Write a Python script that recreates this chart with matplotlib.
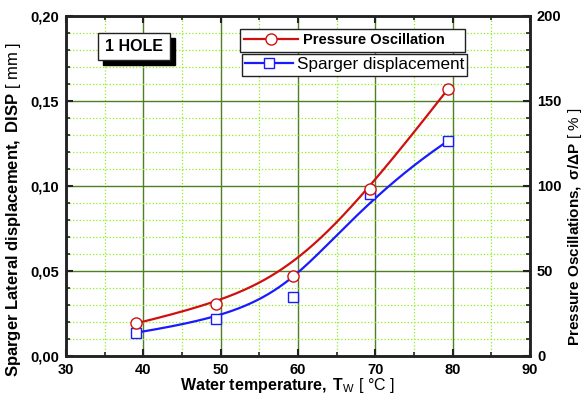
import numpy as np
import matplotlib
matplotlib.use("Agg")
import matplotlib.pyplot as plt
from matplotlib.lines import Line2D
from matplotlib.patches import Rectangle
from matplotlib.ticker import MultipleLocator, FuncFormatter

plt.rcParams['font.family'] = ['Liberation Sans', 'DejaVu Sans']
plt.rcParams['mathtext.fontset'] = 'custom'
plt.rcParams['mathtext.rm'] = 'Liberation Sans'
plt.rcParams['mathtext.bf'] = 'Liberation Sans:bold'
plt.rcParams['mathtext.it'] = 'Liberation Sans:italic'

# Data
temp = [39.1, 49.4, 59.3, 69.3, 79.4]                 # water temperature [°C]
pressure_osc = [19.2, 30.6, 46.9, 98.2, 157.0]        # sigma/dP [%]
sparger_disp = [0.0137, 0.0216, 0.0345, 0.0955, 0.1265]  # DISP [mm]


def bspline(xs, ys, n=300, k=3):
    # clamped B-spline using the points as control points (Origin style)
    P = np.column_stack([xs, ys])
    m = len(P)
    knots = np.concatenate([np.zeros(k), np.linspace(0, 1, m - k + 1), np.ones(k)])
    t = np.linspace(0, 1, n)
    N = np.zeros((n, len(knots) - 1))
    for i in range(len(knots) - 1):
        N[:, i] = (knots[i] <= t) & (t < knots[i + 1])
    N[t == 1, m - 1] = 1
    for d in range(1, k + 1):
        Nn = np.zeros((n, len(knots) - 1 - d))
        for i in range(len(knots) - 1 - d):
            a = knots[i + d] - knots[i]
            b = knots[i + d + 1] - knots[i + 1]
            if a > 0:
                Nn[:, i] += (t - knots[i]) / a * N[:, i]
            if b > 0:
                Nn[:, i] += (knots[i + d + 1] - t) / b * N[:, i + 1]
        N = Nn
    c = N @ P
    return c[:, 0], c[:, 1]


red = '#d01010'
blue = '#1a1aff'
dark = '#222222'

fig = plt.figure(figsize=(5.84, 4.04), dpi=100)
ax = fig.add_axes([0.113, 0.119, 0.7945, 0.8415])
ax2 = ax.twinx()

# grid
ax.set_axisbelow(True)
ax.grid(which='major', color='#4f7f23', lw=1.0, ls='-')
ax.grid(which='minor', color='#8cf01e', lw=0.9, ls=':')

# sparger displacement (left axis)
cx, cy = bspline(temp, sparger_disp)
ax.plot(cx, cy, color=blue, lw=1.6, zorder=3)
ax.plot(temp, sparger_disp, ls='none', marker='s', ms=7, mfc='white', mec=blue, mew=1.0, zorder=4)

# pressure oscillation (right axis)
px, py = bspline(temp, pressure_osc)
ax2.plot(px, py, color=red, lw=1.6, zorder=3)
ax2.plot(temp, pressure_osc, ls='none', marker='o', ms=8, mfc='white', mec=red, mew=1.0, zorder=4)

ax.set_xlim(30, 90)
ax.set_ylim(0, 0.20)
ax2.set_ylim(0, 200)

ax.xaxis.set_major_locator(MultipleLocator(10))
ax.xaxis.set_minor_locator(MultipleLocator(5))
ax.yaxis.set_major_locator(MultipleLocator(0.05))
ax.yaxis.set_minor_locator(MultipleLocator(0.01))
ax2.yaxis.set_major_locator(MultipleLocator(50))
ax2.yaxis.set_minor_locator(MultipleLocator(10))

ax.yaxis.set_major_formatter(FuncFormatter(lambda v, p: f"{v:.2f}".replace('.', ',')))

ax.tick_params(which='both', direction='in', top=True, right=False, color=dark)
ax.tick_params(which='major', length=5, width=1.5, labelsize=10.5, pad=5)
ax.tick_params(which='minor', length=3, width=1.2)
ax2.tick_params(which='both', direction='in', color=dark)
ax2.tick_params(which='major', length=5, width=1.5, labelsize=10.5, pad=5)
ax2.tick_params(which='minor', length=3, width=1.2)

for lab in ax.get_xticklabels() + ax.get_yticklabels() + ax2.get_yticklabels():
    lab.set_fontweight('bold')

for a in (ax, ax2):
    for s in a.spines.values():
        s.set_linewidth(1.8)
        s.set_color(dark)

ax.set_xlabel(r"$\mathbf{Water\ temperature,\ T}_\mathregular{W}$ [ °C ]", fontsize=11.5)
ax.xaxis.set_label_coords(0.478, -0.06)
ax.set_ylabel(r"$\mathbf{Sparger\ Lateral\ displacement,\ DISP}$ [ mm ]", fontsize=12)
ax.yaxis.set_label_coords(-0.092, 0.43)
ax2.set_ylabel(r"$\mathbf{Pressure\ Oscillations,\ σ/ΔP}$ [ % ]", fontsize=11)
ax2.yaxis.set_label_coords(1.078, 0.38)

# legends as two separate boxes
h_red = Line2D([], [], color=red, lw=1.6, marker='o', ms=8, mfc='white', mec=red)
h_blue = Line2D([], [], color=blue, lw=1.6, marker='s', ms=7, mfc='white', mec=blue)
leg1 = ax2.legend([h_red], ['Pressure Oscillation    '], loc='upper left', bbox_to_anchor=(0.375, 0.962),
                  frameon=True, fancybox=False, edgecolor=dark, framealpha=1,
                  prop={'weight': 'bold', 'size': 10.5}, borderpad=0.3, handlelength=3.7,
                  handletextpad=0.3, borderaxespad=0)
leg1.get_frame().set_linewidth(1.0)
ax2.add_artist(leg1)
leg2 = ax2.legend([h_blue], ['Sparger displacement'], loc='upper left', bbox_to_anchor=(0.379, 0.888),
                  frameon=True, fancybox=False, edgecolor=dark, framealpha=1,
                  prop={'size': 12.3}, borderpad=0.2, handlelength=2.8,
                  handletextpad=0.2, borderaxespad=0)
leg2.get_frame().set_linewidth(1.0)

# "1 HOLE" box with drop shadow
bx, by, bw, bh = 0.069, 0.871, 0.155, 0.079
ax2.add_patch(Rectangle((bx + 0.011, by - 0.016), bw, bh, transform=ax.transAxes,
                        fc='black', ec='black', zorder=5))
ax2.add_patch(Rectangle((bx, by), bw, bh, transform=ax.transAxes,
                        fc='white', ec=dark, lw=1.0, zorder=6))
ax2.text(bx + bw / 2, by + bh / 2, "1 HOLE", transform=ax.transAxes, fontsize=11.5,
         fontweight='bold', color='black', va='center', ha='center', zorder=7)

fig.savefig("out.png", dpi=100)
